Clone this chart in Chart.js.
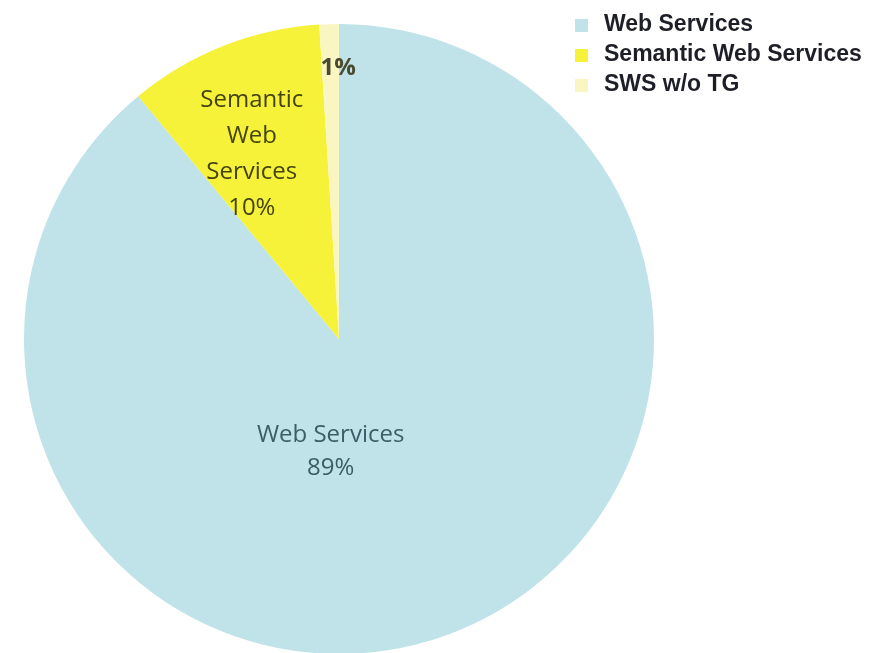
<!DOCTYPE html>
<html>
<head>
<meta charset="utf-8">
<title>Web Services share</title>
<script src="https://cdn.jsdelivr.net/npm/chart.js@4/dist/chart.umd.min.js"></script>
<style>
    html, body { margin: 0; padding: 0; background: #ffffff; overflow: hidden; }
    #wrap { position: relative; width: 889px; height: 660px; }
</style>
</head>
<body>
<div id="wrap"><canvas id="share-chart" width="889" height="660"></canvas></div>
<script>
const categories = ['Web Services', 'Semantic Web Services', 'SWS w/o TG'];
const shareValues = [89, 10, 1];
const sliceLabels = [['Web Services', '89%'], ['Semantic', 'Web', 'Services', '10%'], ['1%']];

const sliceColors = ['#bfe3e8', '#f6f23a', '#f9f6c2'];
const labelColors = ['#3c5d66', '#45440f', '#4a4a30'];
// where each label sits: share of the slice sweep, share of the radius
const labelPlacement = [
    { along: 0.575, out: 0.36 },
    { along: 0.40, out: 0.65 },
    { along: 0.95, out: 0.86 }
];

const sliceLabelPlugin = {
    id: 'sliceLabels',
    afterDatasetsDraw(chart) {
        const ctx = chart.ctx;
        const arcs = chart.getDatasetMeta(0).data;
        ctx.save();
        ctx.textAlign = 'center';
        ctx.textBaseline = 'middle';
        arcs.forEach((arc, i) => {
            const p = arc.getProps(['x', 'y', 'startAngle', 'endAngle', 'outerRadius'], true);
            const place = labelPlacement[i];
            const angle = p.startAngle + (p.endAngle - p.startAngle) * place.along;
            const r = p.outerRadius * place.out;
            const cx = p.x + Math.cos(angle) * r;
            const cy = p.y + Math.sin(angle) * r;
            const lines = sliceLabels[i];
            const lineH = i === 1 ? 36 : 33;
            ctx.fillStyle = labelColors[i];
            ctx.font = (i === 2 ? 'bold ' : '') + '24px "Open Sans", sans-serif';
            lines.forEach((line, k) => {
                ctx.fillText(line, cx, cy + (k - (lines.length - 1) / 2) * lineH);
            });
        });
        ctx.restore();
    }
};

const sideLegendPlugin = {
    id: 'sideLegend',
    afterDraw(chart) {
        const ctx = chart.ctx;
        const x = 575;
        const top = 25;
        const rowH = 30;
        ctx.save();
        ctx.textBaseline = 'middle';
        ctx.textAlign = 'left';
        ctx.font = 'bold 23px "Liberation Sans", Arial, sans-serif';
        chart.data.labels.forEach((label, i) => {
            const y = top + i * rowH;
            ctx.fillStyle = chart.data.datasets[0].backgroundColor[i];
            ctx.fillRect(x, y - 6, 13, 13);
            ctx.fillStyle = '#1e1e28';
            ctx.fillText(label, x + 29, y);
        });
        ctx.restore();
    }
};

new Chart(document.getElementById('share-chart'), {
    type: 'pie',
    data: {
        labels: categories,
        datasets: [{
            data: shareValues,
            backgroundColor: sliceColors,
            borderColor: '#ffffff',
            borderWidth: 0,
            hoverOffset: 0,
            offset: 0
        }]
    },
    options: {
        responsive: false,
        animation: false,
        rotation: 0,
        layout: {
            padding: { top: 24, bottom: 6, left: 24, right: 235 }
        },
        plugins: {
            legend: { display: false },
            tooltip: { enabled: false }
        }
    },
    plugins: [sliceLabelPlugin, sideLegendPlugin]
});
</script>
</body>
</html>
